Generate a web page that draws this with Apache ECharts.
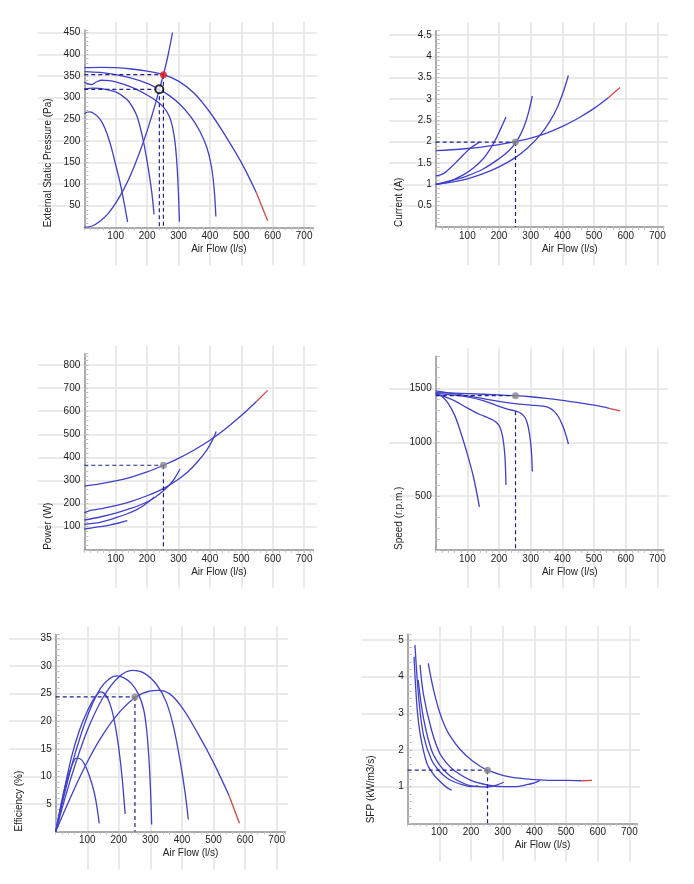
<!DOCTYPE html>
<html>
<head>
<meta charset="utf-8">
<script src="https://cdn.jsdelivr.net/npm/echarts@6/dist/echarts.min.js"></script>
<style>
  html, body { margin: 0; padding: 0; background: #fff; }
  #chart { width: 694px; height: 884px; }
</style>
</head>
<body>
<div id="chart"></div>
<script>
// fan selection charts: pressure, current, power, speed, efficiency, SFP vs air flow
// five fan curves each (A = full speed ... E = lowest), A ends in a red run-out part

const flowLabels = [100, 200, 300, 400, 500, 600, 700];

// --- external static pressure (Pa)
const pressureLabels = [50, 100, 150, 200, 250, 300, 350, 400, 450];
const pressA = [[0,369],[50,370],[100,369],[150,366],[200,361],[252,353],[300,338],[350,310],[400,266],[450,211],[500,150],[548,80]];
const pressARed = [[548,80],[584,15]];
const pressB = [[0,360],[50,358],[100,353],[150,345],[200,333],[239,319],[270,305],[305,284],[340,255],[368,222],[390,185],[405,140],[414,85],[419,25]];
const pressC = [[0,336],[10,332],[22,330],[38,336],[55,340],[80,339],[100,336],[150,324],[200,306],[230,292],[252,278],[270,258],[282,228],[290,190],[296,135],[300,75],[303,13]];
const pressD = [[0,320],[25,322],[50,321],[100,313],[135,296],[155,276],[170,252],[188,200],[204,135],[215,80],[222,30]];
const pressE = [[0,262],[8,266],[18,267],[35,261],[50,250],[65,230],[82,195],[98,150],[114,103],[126,60],[138,12]];
const systemCurve = [[0,0],[25,3],[50,14],[75,31],[100,56],[125,87],[150,125],[175,171],[200,223],[225,282],[239,319],[252,353],[265,392],[281,450]];
const dutyPressure = [252, 353];
const actualPressure = [239, 319];

// --- current (A)
const currentLabels = [0.5, 1, 1.5, 2, 2.5, 3, 3.5, 4, 4.5];
const currA = [[0,1.79],[50,1.81],[100,1.84],[150,1.88],[200,1.93],[252,2.0],[300,2.08],[350,2.2],[400,2.36],[450,2.55],[500,2.78],[545,3.03]];
const currARed = [[545,3.03],[582,3.27]];
const currB = [[0,1.0],[50,1.05],[100,1.13],[150,1.25],[200,1.41],[250,1.62],[290,1.85],[330,2.16],[360,2.47],[385,2.82],[403,3.17],[419,3.55]];
const currC = [[0,1.0],[50,1.09],[100,1.2],[150,1.36],[200,1.6],[230,1.78],[252,1.97],[270,2.2],[285,2.48],[295,2.74],[305,3.07]];
const currD = [[0,1.0],[40,1.06],[87,1.22],[120,1.39],[150,1.6],[170,1.8],[187,2.02],[205,2.3],[222,2.58]];
const currE = [[0,1.2],[15,1.22],[30,1.28],[50,1.41],[70,1.56],[90,1.71],[110,1.85],[138,1.99]];
const dutyCurrent = [252, 1.99];

// --- power (W)
const powerLabels = [100, 200, 300, 400, 500, 600, 700, 800];
const powA = [[0,276],[50,285],[100,298],[150,315],[200,337],[252,366],[300,396],[350,432],[400,474],[450,524],[500,581],[549,643]];
const powARed = [[549,643],[584,690]];
const powB = [[0,160],[15,169],[50,177],[100,191],[150,210],[200,234],[250,264],[294,300],[330,338],[360,380],[390,432],[405,466],[416,498],[420,512]];
const powC = [[0,129],[50,142],[103,160],[150,180],[200,207],[230,232],[260,265],[283,300],[295,326],[305,350]];
const powD = [[0,110],[25,114],[50,119],[103,140],[135,155],[167,174],[190,193],[209,212],[222,228]];
const powE = [[0,90],[25,95],[50,100],[80,107],[110,116],[137,126]];
const dutyPower = [252, 366];

// --- speed (r.p.m.)
const speedLabels = [500, 1000, 1500];
const spdA = [[0,1462],[100,1452],[200,1440],[252,1433],[300,1423],[350,1408],[400,1390],[450,1368],[500,1345],[548,1316]];
const spdARed = [[548,1316],[582,1291]];
const spdB = [[0,1478],[50,1455],[100,1432],[150,1406],[200,1380],[250,1360],[300,1346],[340,1335],[360,1318],[375,1285],[388,1235],[400,1160],[410,1080],[419,984]];
const spdC = [[0,1452],[50,1441],[100,1422],[150,1388],[182,1354],[224,1310],[252,1290],[270,1268],[282,1230],[290,1170],[296,1080],[300,990],[303,880],[305,728]];
const spdD = [[0,1450],[30,1422],[60,1385],[98,1322],[140,1258],[165,1228],[182,1205],[195,1175],[203,1140],[210,1070],[215,980],[219,850],[222,604]];
const spdE = [[0,1455],[20,1425],[40,1360],[60,1250],[77,1110],[98,910],[119,680],[138,400]];
const dutySpeed = [252, 1433];
const speedDropStart = 1288;

// --- efficiency (%)
const effLabels = [5, 10, 15, 20, 25, 30, 35];
const effA = [[0,0],[50,6.6],[100,12.6],[150,17.6],[200,21.5],[252,24.3],[300,25.5],[325,25.6],[360,25],[400,22.5],[450,17.8],[500,12.5],[550,6.4]];
const effARed = [[550,6.4],[582,1.5]];
const effB = [[0,0],[50,10],[100,18.3],[150,24.3],[200,28],[243,29.2],[280,28.7],[320,26.6],[350,23.5],[373,19],[395,12.5],[410,7],[420,2.2]];
const effC = [[0,0],[50,11.8],[100,20.9],[140,25.8],[170,27.7],[193,28.2],[215,27.9],[240,26.8],[262,24.9],[278,22.3],[288,18.5],[295,13.5],[300,8],[304,1.3]];
const effD = [[0,0],[25,7],[50,13.5],[75,18.3],[100,21.8],[125,24.4],[143,25.3],[160,24.6],[175,22.6],[188,19.4],[200,15],[210,10],[220,3.2]];
const effE = [[0,0],[18,5.2],[35,9.3],[50,11.8],[66,13.3],[82,13],[98,11.4],[114,8.8],[126,6],[138,1.5]];
const dutyEff = [251, 24.4];

// --- specific fan power (kW/m3/s)
const sfpLabels = [1, 2, 3, 4, 5];
const sfpA = [[65,4.36],[80,3.7],[100,3.05],[120,2.6],[140,2.3],[165,2.02],[200,1.73],[230,1.55],[252,1.45],[300,1.31],[350,1.23],[400,1.19],[450,1.17],[500,1.17],[549,1.16]];
const sfpARed = [[549,1.16],[582,1.17]];
const sfpB = [[39,4.32],[50,3.5],[75,2.55],[100,1.93],[125,1.62],[150,1.42],[200,1.17],[250,1.05],[300,1.0],[340,1.0],[380,1.06],[400,1.1],[418,1.17]];
const sfpC = [[33,3.91],[50,2.86],[75,2.0],[100,1.6],[125,1.36],[150,1.2],[200,1.02],[250,0.99],[283,1.05],[303,1.12]];
const sfpD = [[23,4.86],[35,3.4],[50,2.4],[75,1.73],[100,1.42],[125,1.23],[150,1.12],[175,1.05],[200,1.0],[222,1.02]];
const sfpE = [[20,4.54],[30,3.1],[40,2.4],[60,1.65],[80,1.35],[100,1.16],[120,1.0],[139,0.9]];
const dutySfp = [252, 1.45];

const FONT = '"Liberation Sans", Arial, sans-serif';
const BLUE = '#4040cc';
const RED = '#d04848';
const NAVY = '#20208c';
const GRID_C = '#e3e3e3';
const AXIS_C = '#8e8e8e';
const TICK_C = '#c2c2c2';
const TEXT_C = '#222';

// layout: pixel of the origin, pixels per unit, axis ends
const panels = [
  { x0: 84.3, y0: 227.3, sx: 0.314, sy: 0.4325, xMax: 730, yMax: 456, yMinor: 10,
    yLabels: pressureLabels, title: 'External Static Pressure (Pa)',
    curves: [pressA, pressB, pressC, pressD, pressE, systemCurve], red: pressARed,
    guides: [[dutyPressure, dutyPressure[1]], [actualPressure, actualPressure[1]]],
    dots: [[dutyPressure, 'red'], [actualPressure, 'ring']] },
  { x0: 435.7, y0: 227, sx: 0.3167, sy: 42.67, xMax: 720, yMax: 4.6, yMinor: 0.1,
    yLabels: currentLabels, title: 'Current (A)',
    curves: [currA, currB, currC, currD, currE], red: currARed,
    guides: [[dutyCurrent, dutyCurrent[1]]], dots: [[dutyCurrent, 'grey']] },
  { x0: 84.3, y0: 549.8, sx: 0.314, sy: 0.231, xMax: 730, yMax: 850, yMinor: 20,
    yLabels: powerLabels, title: 'Power (W)',
    curves: [powA, powB, powC, powD, powE], red: powARed,
    guides: [[dutyPower, dutyPower[1]]], dots: [[dutyPower, 'grey']] },
  { x0: 435.7, y0: 550, sx: 0.3167, sy: 0.1077, xMax: 720, yMax: 1800, yMinor: 100,
    yLabels: speedLabels, title: 'Speed (r.p.m.)',
    curves: [spdA, spdB, spdC, spdD, spdE], red: spdARed,
    guides: [[dutySpeed, speedDropStart]], dots: [[dutySpeed, 'grey']] },
  { x0: 55.7, y0: 831.6, sx: 0.3157, sy: 5.52, xMax: 728, yMax: 35.7, yMinor: 1,
    yLabels: effLabels, title: 'Efficiency (%)',
    curves: [effA, effB, effC, effD, effE], red: effARed,
    guides: [[dutyEff, dutyEff[1]]], dots: [[dutyEff, 'grey']] },
  { x0: 407.7, y0: 823.3, sx: 0.3167, sy: 36.67, xMax: 725, yMax: 5.16, yMinor: 0.2,
    yLabels: sfpLabels, title: 'SFP (kW/m3/s)',
    curves: [sfpA, sfpB, sfpC, sfpD, sfpE], red: sfpARed,
    guides: [[dutySfp, dutySfp[1]]], dots: [[dutySfp, 'grey']] }
];

const dotStyles = {
  red: { symbolSize: 7, itemStyle: { color: '#e81c1c' } },
  ring: { symbolSize: 8, itemStyle: { color: '#fff', borderColor: '#000', borderWidth: 2 } },
  grey: { symbolSize: 7, itemStyle: { color: '#888' } }
};

function near(list, v) {
  return list.some(t => Math.abs(t - v) < 1e-6);
}

const grids = [];
const xAxes = [];
const yAxes = [];
const series = [];
const flowStep = flowLabels[1] - flowLabels[0];
const flowFirst = flowLabels[0];
const flowLast = flowLabels[flowLabels.length - 1];

panels.forEach(p => {
  const axisTop = p.y0 - p.yMax * p.sy;
  const yFirst = p.yLabels[0];
  const yLast = p.yLabels[p.yLabels.length - 1];
  const yStep = p.yLabels.length > 1 ? p.yLabels[1] - p.yLabels[0] : yFirst;

  // vertical grid lines, they run past the plot above and below
  let g = grids.length;
  grids.push({ left: p.x0 + flowFirst * p.sx, width: (flowLast - flowFirst) * p.sx,
    top: axisTop - 8, height: p.y0 + 38 - (axisTop - 8), outerBoundsMode: 'none' });
  xAxes.push({ type: 'value', gridIndex: g, min: flowFirst, max: flowLast, interval: flowStep,
    axisLine: { show: false }, axisTick: { show: false }, axisLabel: { show: false },
    splitLine: { show: true, lineStyle: { color: GRID_C, width: 1.5 } } });
  yAxes.push({ type: 'value', gridIndex: g, show: false });

  // horizontal grid lines, they run past the plot left and right
  g = grids.length;
  grids.push({ left: p.x0 - 46.5, width: 279,
    top: p.y0 - yLast * p.sy, height: (yLast - yFirst) * p.sy, outerBoundsMode: 'none' });
  xAxes.push({ type: 'value', gridIndex: g, show: false });
  yAxes.push({ type: 'value', gridIndex: g, min: yFirst, max: yLast, interval: yStep,
    axisLine: { show: false }, axisTick: { show: false }, axisLabel: { show: false },
    splitLine: { show: true, lineStyle: { color: GRID_C, width: 1.5 } } });

  // the plot itself
  g = grids.length;
  grids.push({ left: p.x0, top: axisTop, width: p.xMax * p.sx, height: p.yMax * p.sy, outerBoundsMode: 'none' });
  xAxes.push({
    type: 'value', gridIndex: g, min: 0, max: p.xMax, interval: flowStep / 5,
    axisLine: { onZero: false, lineStyle: { color: AXIS_C, width: 1.5 } },
    axisTick: { length: 3, lineStyle: { color: TICK_C } },
    axisLabel: { margin: 4, fontSize: 10, color: TEXT_C, fontFamily: FONT,
      formatter: v => near(flowLabels, v) ? String(v) : '' },
    splitLine: { show: false },
    name: 'Air Flow (l/s)', nameLocation: 'middle', nameGap: 17,
    nameTextStyle: { fontSize: 10, color: TEXT_C, fontFamily: FONT, padding: [0, 0, 0, 40] }
  });
  yAxes.push({
    type: 'value', gridIndex: g, min: 0, max: p.yMax, interval: p.yMinor,
    axisLine: { onZero: false, lineStyle: { color: AXIS_C, width: 1.5 } },
    axisTick: { inside: true, length: 4, lineStyle: { color: TICK_C } },
    axisLabel: { margin: 4, fontSize: 10, color: TEXT_C, fontFamily: FONT,
      formatter: v => near(p.yLabels, v) ? String(v) : '' },
    splitLine: { show: false },
    name: p.title, nameLocation: 'start', nameGap: 0, nameRotate: 90,
    nameTextStyle: { fontSize: 10, color: TEXT_C, fontFamily: FONT,
      align: 'left', verticalAlign: 'bottom', padding: [0, 0, 31, 0] }
  });

  const line = (data, color) => ({
    type: 'line', xAxisIndex: g, yAxisIndex: g, data, symbol: 'none',
    smooth: 0.35, silent: true, z: 3,
    lineStyle: { color, width: 1.3 }
  });
  p.curves.forEach(c => series.push(line(c, BLUE)));
  series.push(line(p.red, RED));

  // dashed read-off lines to both axes
  p.guides.forEach(([pt, from]) => {
    const dash = data => ({
      type: 'line', xAxisIndex: g, yAxisIndex: g, data, symbol: 'none', silent: true, z: 4,
      lineStyle: { color: NAVY, width: 1.2, type: [4, 3] }
    });
    series.push(dash([[0, pt[1]], pt]));
    series.push(dash([[pt[0], from], [pt[0], 0]]));
  });

  p.dots.forEach(([pt, kind]) => {
    series.push(Object.assign({ type: 'scatter', xAxisIndex: g, yAxisIndex: g, data: [pt],
      silent: true, z: 5 }, dotStyles[kind]));
  });
});

const chart = echarts.init(document.getElementById('chart'));
chart.setOption({
  backgroundColor: '#fff',
  animation: false,
  grid: grids,
  xAxis: xAxes,
  yAxis: yAxes,
  series: series
});
</script>
</body>
</html>
